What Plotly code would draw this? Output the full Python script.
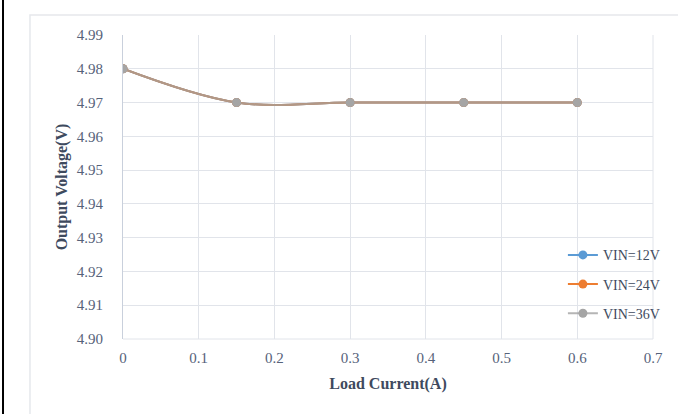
import plotly.graph_objects as go

load_current = [0, 0.15, 0.3, 0.45, 0.6]
vin_12 = [4.98, 4.97, 4.97, 4.97, 4.97]
vin_24 = [4.98, 4.97, 4.97, 4.97, 4.97]
vin_36 = [4.98, 4.97, 4.97, 4.97, 4.97]
series_names = ["VIN=12V", "VIN=24V", "VIN=36V"]
series_colors = ["#5B9BD5", "#ED7D31", "#A5A5A5"]
line_colors = ["#5B9BD5", "#ED7D31", "rgba(160,160,160,0.78)"]

fig = go.Figure()
for name, ys, col, lcol in zip(series_names, [vin_12, vin_24, vin_36], series_colors, line_colors):
    fig.add_trace(go.Scatter(
        x=load_current, y=ys, name=name, mode="lines+markers",
        line=dict(color=lcol, width=2, shape="spline", smoothing=1),
        marker=dict(color=col, size=9),
        legendgroup=name,
    ))

tick_font = dict(family="Liberation Serif, Times New Roman, serif", size=15, color="#56627a")
title_font = dict(family="Liberation Serif, Times New Roman, serif", size=16, color="#3e4a5e")

fig.update_layout(
    width=678, height=414,
    margin=dict(l=123, r=25, t=35, b=75),
    paper_bgcolor="white", plot_bgcolor="white",
    showlegend=True,
    legend=dict(x=0.83, y=0.328, xanchor="left", yanchor="top",
                font=dict(family="Liberation Serif, Times New Roman, serif", size=14, color="#3e4a5e"),
                bgcolor="rgba(0,0,0,0)", tracegroupgap=8, itemwidth=30),
    xaxis=dict(range=[0, 0.7], dtick=0.1, tick0=0, showgrid=True, gridcolor="#E1E4EA",
               gridwidth=1, zeroline=False, showline=False, ticks="",
               tickfont=tick_font, ticklabelstandoff=8,
               title=dict(text="<b>Load Current(A)</b>", font=title_font, standoff=12)),
    yaxis=dict(range=[4.90, 4.99], dtick=0.01, tick0=4.90, tickformat=".2f",
               showgrid=True, gridcolor="#E1E4EA", gridwidth=1, zeroline=False,
               showline=True, linecolor="#C9D0DC", linewidth=1, ticks="",
               tickfont=tick_font, ticklabelstandoff=16,
               title=dict(text="<b>Output Voltage(V)</b>", font=title_font, standoff=5)),
    shapes=[
        dict(type="line", xref="paper", yref="paper", x0=1, x1=1, y0=0, y1=1,
             line=dict(color="#E1E4EA", width=1)),
        dict(type="line", xref="paper", yref="paper", x0=0, x1=1, y0=0, y1=0,
             line=dict(color="#E1E4EA", width=1)),
        dict(type="rect", xref="paper", yref="paper", x0=-0.1755, x1=1.2, y0=-0.4, y1=1.0658,
             line=dict(color="#E6E8EC", width=1.5), fillcolor="rgba(0,0,0,0)", layer="below"),
        dict(type="line", xref="paper", yref="paper", x0=-0.2264, x1=-0.2264, y0=-0.4, y1=1.3,
             line=dict(color="black", width=2)),
    ],
)

fig.write_html("out.html", config={"displayModeBar": False},
               post_script="document.body.style.margin='0';")
